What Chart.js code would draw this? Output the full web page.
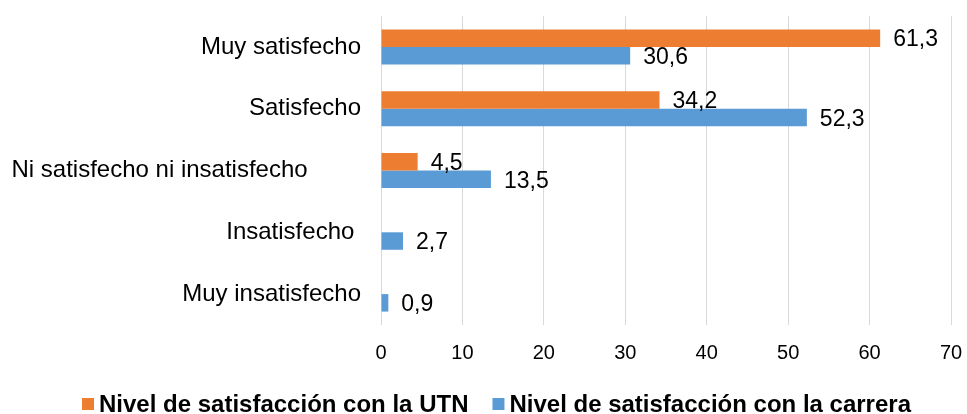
<!DOCTYPE html>
<html>
<head>
<meta charset="utf-8">
<script src="https://cdn.jsdelivr.net/npm/chart.js@4"></script>
<style>
  html, body { margin: 0; padding: 0; background: #fff; }
  #wrap { width: 967px; height: 414px; }
</style>
</head>
<body>
<div id="wrap"><canvas id="satisfactionChart"></canvas></div>
<script>
const categories = [
    'Muy satisfecho',
    'Satisfecho',
    'Ni satisfecho ni insatisfecho        ',
    'Insatisfecho ',
    'Muy insatisfecho'
];
const utnValues = [61.3, 34.2, 4.5, null, null];
const carreraValues = [30.6, 52.3, 13.5, 2.7, 0.9];
const xTicks = [0, 10, 20, 30, 40, 50, 60, 70];

const fontFamily = '"Liberation Sans", Arial, sans-serif';

// draws the value next to each bar, with a decimal comma
const valueLabels = {
    id: 'valueLabels',
    afterDatasetsDraw(chart) {
        const ctx = chart.ctx;
        ctx.save();
        ctx.font = `23px ${fontFamily}`;
        ctx.fillStyle = '#000';
        ctx.textAlign = 'left';
        ctx.textBaseline = 'middle';
        chart.data.datasets.forEach((ds, i) => {
            const meta = chart.getDatasetMeta(i);
            meta.data.forEach((bar, j) => {
                const v = ds.data[j];
                if (v === null || v === undefined) return;
                ctx.fillText(v.toFixed(1).replace('.', ','), bar.x + 13, bar.y + 2);
            });
        });
        ctx.restore();
    }
};

// bottom legend drawn by hand so the spacing can match the original
const bottomLegend = {
    id: 'bottomLegend',
    afterDraw(chart) {
        const ctx = chart.ctx;
        const y = 404;
        const box = 12, gap = 5, itemGap = 24;
        ctx.save();
        ctx.font = `bold 24px ${fontFamily}`;
        ctx.textBaseline = 'middle';
        ctx.textAlign = 'left';
        const items = chart.data.datasets.map(ds => ({
            text: ds.label,
            color: ds.backgroundColor,
            w: ctx.measureText(ds.label).width
        }));
        const total = items.reduce((s, it) => s + box + gap + it.w, 0) + itemGap * (items.length - 1);
        let x = (chart.width - total) / 2 + 13;
        items.forEach(it => {
            ctx.fillStyle = it.color;
            ctx.fillRect(x, y - 6, box, box);
            ctx.fillStyle = '#000';
            ctx.fillText(it.text, x + box + gap, y + 1);
            x += box + gap + it.w + itemGap;
        });
        ctx.restore();
    }
};

const ctx = document.getElementById('satisfactionChart').getContext('2d');
new Chart(ctx, {
    type: 'bar',
    data: {
        labels: categories,
        datasets: [{
            label: 'Nivel de satisfacción con la UTN',
            data: utnValues,
            backgroundColor: '#ED7D31',
            barPercentage: 1,
            categoryPercentage: 0.566
        }, {
            label: 'Nivel de satisfacción con la carrera',
            data: carreraValues,
            backgroundColor: '#5B9BD5',
            barPercentage: 1,
            categoryPercentage: 0.566
        }]
    },
    options: {
        indexAxis: 'y',
        responsive: true,
        maintainAspectRatio: false,
        animation: false,
        layout: { padding: { top: 16, right: 16, left: 0, bottom: 49 } },
        scales: {
            x: {
                min: 0,
                max: 70,
                afterBuildTicks(scale) {
                    scale.ticks = xTicks.map(v => ({ value: v }));
                },
                afterFit(scale) {
                    scale.height = 40;
                    scale.paddingLeft = 0;
                    scale.paddingRight = 0;
                },
                grid: { color: '#D9D9D9', lineWidth: 1, drawTicks: false },
                border: { display: false },
                ticks: {
                    color: '#000',
                    padding: 16,
                    font: { family: fontFamily, size: 20 }
                }
            },
            y: {
                afterFit(scale) {
                    scale.width = 381;
                    scale.paddingTop = 0;
                    scale.paddingBottom = 0;
                },
                grid: { display: false, drawTicks: false },
                border: { display: false },
                ticks: {
                    color: '#000',
                    padding: 20,
                    font: { family: fontFamily, size: 24 }
                }
            }
        },
        plugins: {
            legend: { display: false },
            tooltip: { enabled: false }
        }
    },
    plugins: [valueLabels, bottomLegend]
});
</script>
</body>
</html>
